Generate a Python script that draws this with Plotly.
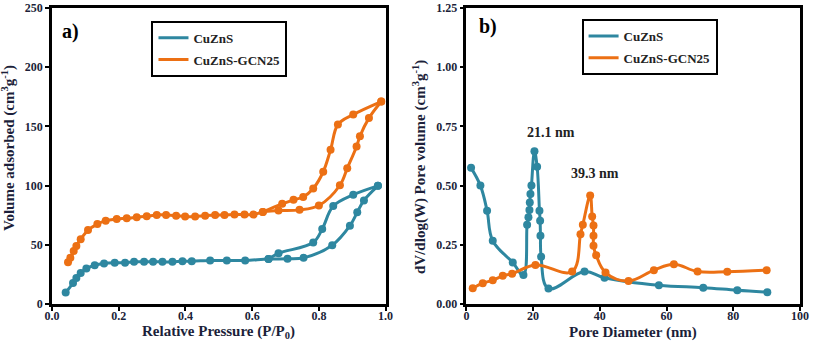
import plotly.graph_objects as go
from plotly.subplots import make_subplots

# a) N2 adsorption-desorption isotherms
a_cuzns_ads_x = [0.041, 0.063, 0.073, 0.086, 0.103, 0.128, 0.156, 0.188, 0.219, 0.246, 0.276,
                 0.303, 0.331, 0.361, 0.391, 0.419, 0.474, 0.524, 0.579, 0.649, 0.706, 0.754,
                 0.84, 0.893, 0.915, 0.935, 0.977]
a_cuzns_ads_y = [9.7, 17.7, 22.0, 26.2, 29.9, 32.7, 34.2, 34.8, 34.8, 35.6, 35.6,
                 35.6, 35.6, 35.6, 36.2, 36.2, 36.8, 36.8, 36.8, 38.0, 38.2, 39.0,
                 49.6, 66.1, 77.5, 87.5, 99.8]
a_cuzns_des_x = [0.977, 0.903, 0.843, 0.81, 0.783, 0.679, 0.649]
a_cuzns_des_y = [99.8, 92.3, 82.7, 63.3, 51.9, 42.8, 38.0]

a_gcn_ads_x = [0.048, 0.055, 0.065, 0.073, 0.086, 0.108, 0.136, 0.161, 0.194, 0.224, 0.254,
               0.284, 0.314, 0.342, 0.372, 0.399, 0.429, 0.459, 0.489, 0.517, 0.547, 0.577,
               0.604, 0.632, 0.679, 0.742, 0.8, 0.863, 0.885, 0.913, 0.923, 0.95, 0.987]
a_gcn_ads_y = [35.3, 39.1, 44.7, 49.0, 54.7, 62.4, 67.5, 70.4, 71.8, 72.4, 73.3,
               74.1, 75.2, 75.2, 74.6, 73.8, 73.8, 74.6, 75.2, 75.2, 75.5, 75.5,
               75.5, 77.8, 78.9, 79.5, 83.2, 100.3, 114.6, 133.1, 141.7, 157.0, 171.0]
a_gcn_des_x = [0.987, 0.903, 0.857, 0.835, 0.813, 0.783, 0.753, 0.724, 0.69, 0.632]
a_gcn_des_y = [171.0, 160.0, 151.6, 130.2, 111.7, 97.5, 90.4, 88.0, 84.6, 77.8]

# b) pore size distribution
b_cuzns_x = [1.4, 4.2, 6.2, 7.9, 13.9, 17.1, 18.2, 18.6, 18.9, 19.0, 19.2, 19.5, 20.4,
             21.2, 21.9, 22.1, 22.2, 22.4, 24.6, 35.4, 41.4, 57.7, 71.0, 81.2, 90.2]
b_cuzns_y = [0.575, 0.50, 0.394, 0.267, 0.175, 0.122, 0.335, 0.366, 0.397, 0.429, 0.465, 0.50, 0.645,
             0.58, 0.394, 0.352, 0.288, 0.20, 0.065, 0.137, 0.111, 0.079, 0.069, 0.058, 0.05]

b_gcn_x = [1.9, 4.9, 7.9, 10.9, 13.7, 20.7, 31.7, 34.2, 34.9, 37.1, 37.7, 38.1, 38.1, 38.1,
           38.9, 41.7, 48.6, 56.2, 62.2, 69.3, 78.2, 90.0]
b_gcn_y = [0.066, 0.088, 0.10, 0.119, 0.128, 0.165, 0.137, 0.295, 0.335, 0.458, 0.37, 0.331, 0.288, 0.246,
           0.206, 0.133, 0.097, 0.143, 0.168, 0.137, 0.136, 0.143]

TEAL = "#2e87a0"
ORANGE = "#ec7014"
INK = "#1c1f3a"
FONT = "Liberation Serif"

fig = make_subplots(rows=1, cols=2, horizontal_spacing=0.108)

def curve(x, y, color, col, smooth=1.0):
    fig.add_trace(go.Scatter(
        x=x, y=y, mode="lines+markers", showlegend=False,
        line=dict(color=color, width=3, shape="spline", smoothing=smooth),
        marker=dict(color=color, size=8),
    ), row=1, col=col)

curve(a_cuzns_ads_x, a_cuzns_ads_y, TEAL, 1)
curve(a_cuzns_des_x, a_cuzns_des_y, TEAL, 1)
curve(a_gcn_ads_x, a_gcn_ads_y, ORANGE, 1)
curve(a_gcn_des_x, a_gcn_des_y, ORANGE, 1)
curve(b_cuzns_x, b_cuzns_y, TEAL, 2, 1.1)
curve(b_gcn_x, b_gcn_y, ORANGE, 2, 1.1)

# legend-only entries (lines without markers)
for leg, col in (("legend", 1), ("legend2", 2)):
    for name, color in (("CuZnS", TEAL), ("CuZnS-GCN25", ORANGE)):
        fig.add_trace(go.Scatter(
            x=[None], y=[None], mode="lines", name=name, legend=leg,
            legendgroup=leg + name, line=dict(color=color, width=3),
        ), row=1, col=col)

axis_common = dict(
    showline=True, linewidth=2.5, linecolor="black", mirror=True,
    ticks="outside", ticklen=4, tickwidth=1.5, tickcolor="black",
    showgrid=False, zeroline=False, automargin=False, ticklabeloverflow="allow",
    tickfont=dict(family=FONT, size=12, color=INK, weight="bold"),
)

fig.update_xaxes(axis_common)
fig.update_yaxes(axis_common)
fig.update_xaxes(ticklabelstandoff=-5)

fig.update_xaxes(range=[0, 1.0], dtick=0.2, tickformat=".1f", row=1, col=1)
fig.update_yaxes(range=[0, 250], dtick=50, row=1, col=1)
fig.update_xaxes(range=[0, 100], dtick=20, row=1, col=2)
fig.update_yaxes(range=[0, 1.25], dtick=0.25, tickformat=".2f", row=1, col=2)

legend_style = dict(
    bordercolor="black", borderwidth=2, bgcolor="white",
    font=dict(family=FONT, size=13, color="#222", weight="bold"),
    traceorder="grouped", tracegroupgap=2, itemwidth=30,
    xanchor="left", yanchor="top",
)

title_font = dict(family=FONT, size=15, color=INK, weight="bold")
label_font = dict(family=FONT, size=14, color="#222", weight="bold")
panel_font = dict(family=FONT, size=20, color="black", weight="bold")

fig.update_layout(
    width=813, height=342,
    margin=dict(l=52, r=13, t=8, b=38),
    plot_bgcolor="white", paper_bgcolor="white",
    legend=dict(legend_style, x=0.133, y=0.957),
    legend2=dict(legend_style, x=0.708, y=0.963),
    annotations=[
        dict(text="Relative Pressure (P/P<sub>0</sub>)", xref="x domain", yref="paper",
             x=0.5, y=0, yshift=-28, yanchor="middle", showarrow=False, font=title_font),
        dict(text="Pore Diameter (nm)", xref="x2 domain", yref="paper",
             x=0.5, y=0, yshift=-28, yanchor="middle", showarrow=False, font=title_font),
        dict(text="Volume adsorbed (cm<sup>3</sup>g<sup>-1</sup>)", xref="paper", yref="paper",
             x=-0.0588, y=0.527, xanchor="center", yanchor="middle", textangle=-90,
             showarrow=False, font=title_font),
        dict(text="dV/dlog(W) Pore volume (cm<sup>3</sup>g<sup>-1</sup>)", xref="paper", yref="paper",
             x=0.492, y=0.463, xanchor="center", yanchor="middle", textangle=-90,
             showarrow=False, font=title_font),
        dict(text="a)", xref="x domain", yref="y domain", x=0.025, y=0.919, showarrow=False,
             xanchor="left", yanchor="middle", font=panel_font),
        dict(text="b)", xref="x2 domain", yref="y2 domain", x=0.033, y=0.936, showarrow=False,
             xanchor="left", yanchor="middle", font=panel_font),
        dict(text="21.1 nm", xref="x2", yref="y2", x=25.5, y=0.725, showarrow=False, font=label_font),
        dict(text="39.3 nm", xref="x2", yref="y2", x=38.6, y=0.552, showarrow=False, font=label_font),
    ],
)

# drop the browser's default 8px body margin so the figure fills the window exactly
fig.write_html("out.html", config={"displayModeBar": False},
               post_script="document.body.style.margin = '0';")
